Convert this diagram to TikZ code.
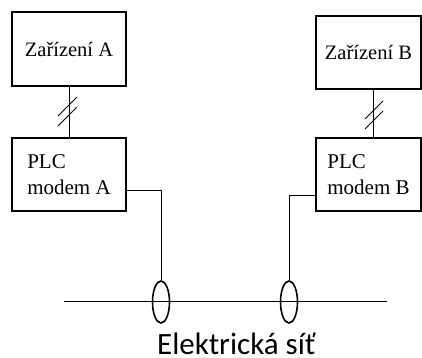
\documentclass[tikz,border=0pt]{standalone}
\usepackage{fontspec}
\setmainfont{Liberation Serif}
\newfontfamily\netfont{Carlito}
\usetikzlibrary{shapes.geometric,calc}
\begin{document}
\begin{tikzpicture}[x=1pt,y=-1pt,
  devbox/.style={draw,line width=2pt,rectangle,inner sep=0pt,
    font=\fontsize{20.5}{26}\selectfont},
  plcbox/.style={draw,line width=2pt,rectangle,inner sep=0pt,align=left,
    font=\fontsize{21}{26}\selectfont},
  coupler/.style={draw,line width=1.6pt,ellipse,inner sep=0pt,
    minimum width=17pt,minimum height=42pt},
  wire/.style={line width=0.9pt},
  slash/.style={line width=0.9pt}]
\useasboundingbox (0,0) rectangle (422,357);
% devices
\node[devbox,minimum width=114pt,minimum height=74pt] (devA) at (69,49) {Zařízení A};
\node[devbox,minimum width=105pt,minimum height=73pt] (devB) at (368.5,52.5) {Zařízení B};
% modems
\node[plcbox,minimum width=114pt,minimum height=73pt] (plcA) at (69,174.5) {PLC\\modem A};
\node[plcbox,minimum width=105pt,minimum height=73pt] (plcB) at (368.5,174.5) {PLC\\modem B};
% couplers
\node[coupler] (cA) at (161,302) {};
\node[coupler] (cB) at (289,302) {};
% network line
\coordinate (netL) at (64,301);
\coordinate (netR) at (387,301);
\draw[wire] (netL) -- (netR);
\node[anchor=base west,inner sep=0pt,font=\netfont\fontsize{31}{36}\selectfont] (net) at (157,354) {Elektrická síť};
% device to modem links
\draw[wire] (devA.south) -- (plcA.north);
\draw[wire] ([xshift=4.5pt]devB.south) -- ([xshift=4.5pt]plcB.north);
% double slashes
\draw[slash] (58,116) -- (77,97);
\draw[slash] (58,126) -- (77,107);
\draw[slash] (365,119) -- (383,101);
\draw[slash] (365,129) -- (383,111);
% modem to coupler
\draw[wire] ([yshift=-15.5pt]plcA.east) -| (cA.north);
\draw[wire] ([yshift=-20.5pt]plcB.west) -| (cB.north);
\end{tikzpicture}
\end{document}
